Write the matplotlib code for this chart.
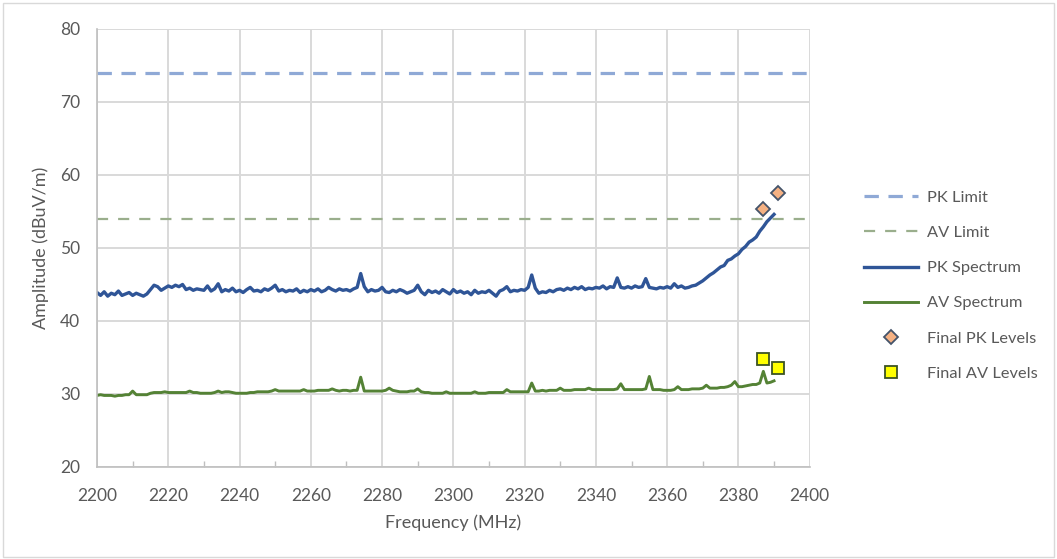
import numpy as np
import matplotlib
matplotlib.use("Agg")
import matplotlib.pyplot as plt
from matplotlib.patches import Rectangle
from matplotlib.ticker import MultipleLocator

plt.rcParams['font.family'] = ['Lato', 'DejaVu Sans']

# spectrum sweep, 1 MHz steps
freq = np.arange(2200, 2391)

pk_spectrum = [
    43.9, 43.5, 44.0, 43.4, 43.8, 43.6, 44.1, 43.5, 43.7, 43.9,
    43.5, 43.8, 43.6, 43.4, 43.7, 44.3, 44.9, 44.7, 44.2, 44.5,
    44.8, 44.6, 44.9, 44.7, 45.0, 44.3, 44.5, 44.2, 44.4, 44.3,
    44.2, 44.8, 44.1, 44.4, 45.1, 44.0, 44.3, 44.1, 44.5, 44.0,
    44.2, 43.9, 44.3, 44.6, 44.1, 44.2, 44.0, 44.4, 44.2, 44.5,
    44.9, 44.1, 44.3, 44.0, 44.2, 44.1, 44.4, 43.9, 44.2, 44.0,
    44.3, 44.1, 44.4, 44.0, 44.2, 44.6, 44.3, 44.1, 44.4, 44.2,
    44.3, 44.1, 44.4, 44.6, 46.5, 44.7, 44.0, 44.3, 44.1, 44.2,
    44.6, 44.0, 43.9, 44.2, 44.0, 44.3, 44.1, 43.8, 44.0, 44.2,
    44.9, 44.0, 43.6, 44.2, 43.9, 44.1, 43.8, 44.3, 44.0, 43.7,
    44.3, 43.9, 44.1, 43.8, 44.0, 43.6, 44.2, 43.8, 44.0, 43.9,
    44.2, 43.8, 43.4, 44.1, 44.3, 44.7, 44.0, 44.2, 44.1, 44.3,
    44.2, 44.6, 46.3, 44.5, 43.8, 44.0, 43.9, 44.2, 44.0, 44.3,
    44.4, 44.2, 44.5, 44.3, 44.6, 44.4, 44.7, 44.3, 44.5, 44.4,
    44.6, 44.5, 44.8, 44.4, 44.7, 44.6, 45.9, 44.6, 44.5, 44.7,
    44.5, 44.8, 44.6, 44.7, 45.8, 44.6, 44.5, 44.4, 44.6, 44.5,
    44.7, 44.5, 45.1, 44.6, 44.8, 44.5, 44.6, 44.8, 44.9, 45.2,
    45.5, 45.9, 46.3, 46.6, 47.0, 47.4, 47.6, 48.3, 48.5, 48.9,
    49.2, 49.8, 50.2, 50.8, 51.1, 51.5, 52.3, 52.9, 53.6, 54.1,
    54.6,
]

av_spectrum = [
    29.8, 29.9, 29.8, 29.8, 29.8, 29.7, 29.8, 29.8, 29.9, 29.9,
    30.4, 29.9, 29.9, 29.9, 29.9, 30.1, 30.2, 30.2, 30.2, 30.3,
    30.2, 30.2, 30.2, 30.2, 30.2, 30.2, 30.4, 30.2, 30.2, 30.1,
    30.1, 30.1, 30.1, 30.2, 30.4, 30.2, 30.3, 30.3, 30.2, 30.1,
    30.1, 30.1, 30.1, 30.2, 30.2, 30.3, 30.3, 30.3, 30.3, 30.4,
    30.6, 30.4, 30.4, 30.4, 30.4, 30.4, 30.4, 30.4, 30.6, 30.4,
    30.4, 30.4, 30.5, 30.5, 30.5, 30.5, 30.7, 30.5, 30.4, 30.5,
    30.5, 30.4, 30.5, 30.5, 32.3, 30.4, 30.4, 30.4, 30.4, 30.4,
    30.4, 30.5, 30.8, 30.5, 30.4, 30.3, 30.3, 30.3, 30.4, 30.4,
    30.7, 30.3, 30.2, 30.2, 30.1, 30.1, 30.1, 30.1, 30.3, 30.1,
    30.1, 30.1, 30.1, 30.1, 30.1, 30.1, 30.3, 30.1, 30.1, 30.1,
    30.2, 30.2, 30.2, 30.2, 30.2, 30.6, 30.3, 30.3, 30.3, 30.3,
    30.3, 30.3, 31.5, 30.4, 30.4, 30.5, 30.4, 30.5, 30.5, 30.5,
    30.8, 30.5, 30.5, 30.5, 30.6, 30.6, 30.6, 30.6, 30.8, 30.6,
    30.6, 30.6, 30.6, 30.6, 30.6, 30.6, 30.7, 31.4, 30.6, 30.6,
    30.6, 30.6, 30.6, 30.6, 30.7, 32.4, 30.6, 30.6, 30.6, 30.5,
    30.5, 30.5, 30.6, 31.0, 30.6, 30.6, 30.6, 30.7, 30.7, 30.7,
    30.8, 31.2, 30.8, 30.8, 30.8, 30.9, 30.9, 31.0, 31.2, 31.7,
    31.0, 31.0, 31.1, 31.2, 31.3, 31.3, 31.5, 33.1, 31.5, 31.6,
    31.8,
]

pk_limit = 74
av_limit = 54

final_freq = [2387, 2391]
final_pk = [55.4, 57.5]
final_av = [34.8, 33.5]

fig = plt.figure(figsize=(10.57, 5.59), dpi=100)
ax = fig.add_axes([0.0918, 0.1646, 0.6742, 0.7836])

# light chart-area frame
fig.patches.append(Rectangle((0.003, 0.004), 0.994, 0.99, transform=fig.transFigure,
                             fill=False, edgecolor='#D9D9D9', lw=1))

ax.axhline(pk_limit, color='#8FA9D6', lw=2.3, dashes=(4.5, 3), label='PK Limit')
ax.axhline(av_limit, color='#9AAE8C', lw=1.6, dashes=(5, 4.5), label='AV Limit')
ax.plot(freq, pk_spectrum, color='#2F5597', lw=2.4, label='PK Spectrum')
ax.plot(freq, av_spectrum, color='#548235', lw=2.1, label='AV Spectrum')
ax.plot(final_freq, final_pk, ls='none', marker='D', ms=7, mfc='#F4B183',
        mec='#44546A', mew=1.3, label='Final PK Levels', zorder=5)
ax.plot(final_freq, final_av, ls='none', marker='s', ms=8.5, mfc='#FFFF00',
        mec='#3B5323', mew=1.3, label='Final AV Levels', zorder=5)

ax.set_xlim(2200, 2400)
ax.set_ylim(20, 80)
ax.xaxis.set_major_locator(MultipleLocator(20))
ax.xaxis.set_minor_locator(MultipleLocator(10))
ax.yaxis.set_major_locator(MultipleLocator(10))
ax.grid(True, which='major', color='#D9D9D9', lw=1.4)
ax.set_axisbelow(True)

for s in ['top', 'right']:
    ax.spines[s].set_visible(False)
for s in ['left', 'bottom']:
    ax.spines[s].set_color('#BFBFBF')
    ax.spines[s].set_linewidth(1.2)

ax.tick_params(axis='both', which='major', length=0, labelsize=12.5,
               labelcolor='#595959')
ax.tick_params(axis='x', which='major', pad=15)
ax.tick_params(axis='y', which='major', pad=12)
ax.tick_params(axis='x', which='minor', direction='in', length=4,
               color='#BFBFBF', width=1)

ax.set_xlabel('Frequency (MHz)', fontsize=13, color='#595959', labelpad=8)
ax.set_ylabel('Amplitude (dBuV/m)', fontsize=13, color='#595959', labelpad=8)

fig.legend(loc='upper left', bbox_to_anchor=(0.817, 0.659), frameon=False,
           fontsize=11.8, labelcolor='#595959', labelspacing=1.26,
           handlelength=3.3, handletextpad=0.55, borderpad=0, borderaxespad=0)

fig.savefig('out.png', dpi=100)
